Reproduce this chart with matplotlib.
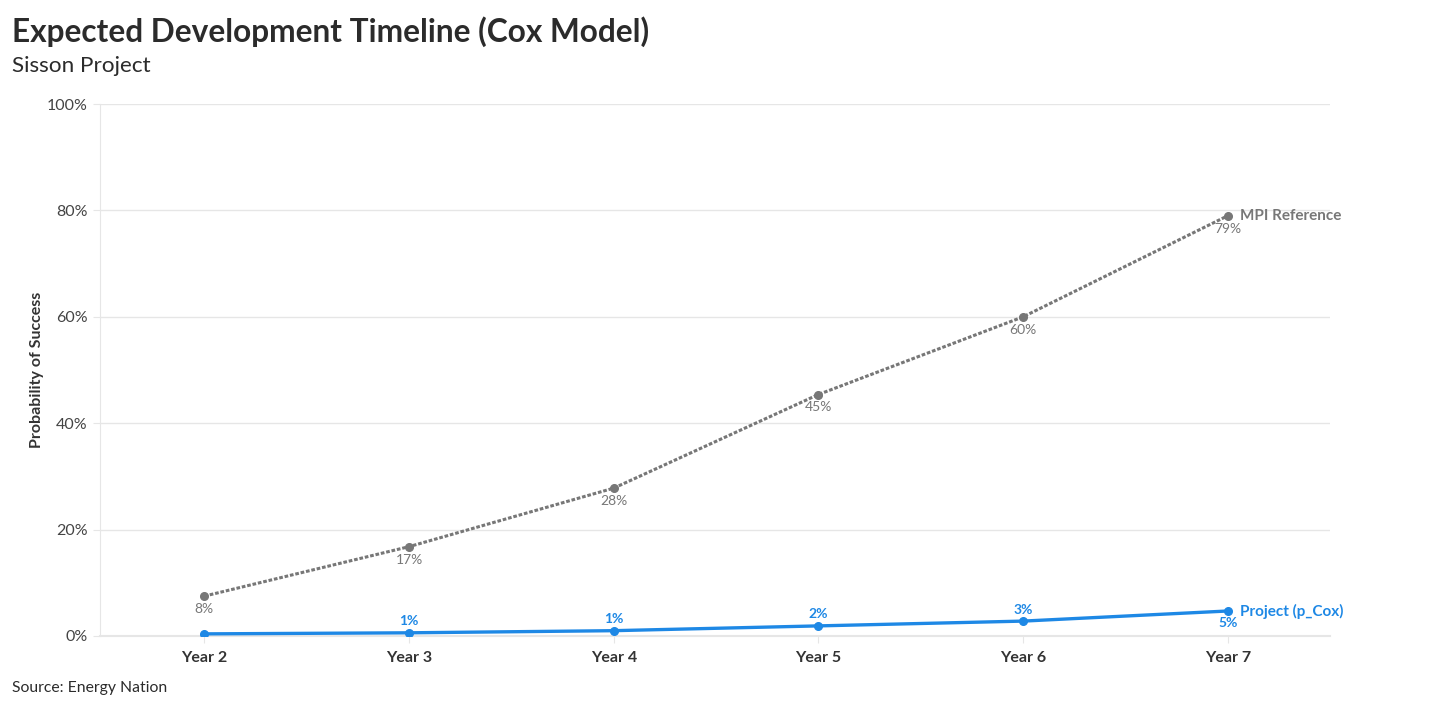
import matplotlib
matplotlib.use("Agg")
import matplotlib.pyplot as plt
import numpy as np

plt.rcParams["font.family"] = ["Lato", "DejaVu Sans"]

# data
years = ["Year 2", "Year 3", "Year 4", "Year 5", "Year 6", "Year 7"]
mpi_ref = [7.5, 16.8, 27.8, 45.4, 60.0, 79.0]
p_cox = [0.4, 0.6, 1.0, 1.9, 2.8, 4.7]
mpi_labels = ["8%", "17%", "28%", "45%", "60%", "79%"]
cox_labels = ["", "1%", "1%", "2%", "3%", "5%"]
yticks = [0, 20, 40, 60, 80, 100]

gray = "#777777"
blue = "#1E88E5"
grid_c = "#E6E6E6"

fig = plt.figure(figsize=(14.56, 7.08), dpi=100)
ax = fig.add_axes([0.0687, 0.1017, 0.8448, 0.7513])

x = np.arange(len(years))

ax.plot(x, mpi_ref, color=gray, linestyle=(0, (1.2, 0.6)), linewidth=2.2,
        marker="o", markersize=5.5, zorder=3)
ax.plot(x, p_cox, color=blue, linewidth=2.4, marker="o", markersize=5.5, zorder=4)

# point labels
for xi, v, lab in zip(x, mpi_ref, mpi_labels):
    ax.annotate(lab, (xi, v), xytext=(0, -5), textcoords="offset points",
                ha="center", va="top", fontsize=10, color=gray)
for i, (xi, v, lab) in enumerate(zip(x, p_cox, cox_labels)):
    if not lab:
        continue
    if i == len(x) - 1:
        ax.annotate(lab, (xi, v), xytext=(0, -4), textcoords="offset points",
                    ha="center", va="top", fontsize=10, color=blue, fontweight="bold")
    else:
        ax.annotate(lab, (xi, v), xytext=(0, 4), textcoords="offset points",
                    ha="center", va="bottom", fontsize=10, color=blue, fontweight="bold")

# series end labels
ax.annotate("MPI Reference", (x[-1], mpi_ref[-1]), xytext=(9, 0), textcoords="offset points",
            ha="left", va="center", fontsize=11, color=gray, fontweight="bold",
            annotation_clip=False)
ax.annotate("Project (p_Cox)", (x[-1], p_cox[-1]), xytext=(9, 0), textcoords="offset points",
            ha="left", va="center", fontsize=11, color=blue, fontweight="bold",
            annotation_clip=False)

ax.set_xlim(-0.51, 5.5)
ax.set_ylim(0, 100)
ax.set_xticks(x)
ax.set_xticklabels(years, fontsize=11.5, fontweight="bold", color="#333333")
ax.set_yticks(yticks)
ax.set_yticklabels([f"{t}%" for t in yticks], fontsize=11.5, color="#444444")
ax.tick_params(axis="x", length=5, color=grid_c, pad=6)
ax.tick_params(axis="y", length=5, color=grid_c, pad=4)
ax.grid(axis="y", color=grid_c, linewidth=1)
ax.set_axisbelow(True)
for s in ["top", "right"]:
    ax.spines[s].set_visible(False)
ax.spines["left"].set_color(grid_c)
ax.spines["bottom"].set_color(grid_c)
ax.spines["bottom"].set_linewidth(1.5)

ax.set_ylabel("Probability of Success", fontsize=11.5, fontweight="bold", color="#333333", labelpad=2)

fig.text(0.008, 0.956, "Expected Development Timeline (Cox Model)", fontsize=22.8,
         fontweight="bold", color="#2b2b2b", va="center", ha="left")
fig.text(0.008, 0.907, "Sisson Project", fontsize=16.2, color="#2b2b2b", va="center", ha="left")
fig.text(0.008, 0.028, "Source: Energy Nation", fontsize=11.3, color="#2b2b2b", va="center", ha="left")

fig.savefig("out.png", dpi=100, facecolor="white")
